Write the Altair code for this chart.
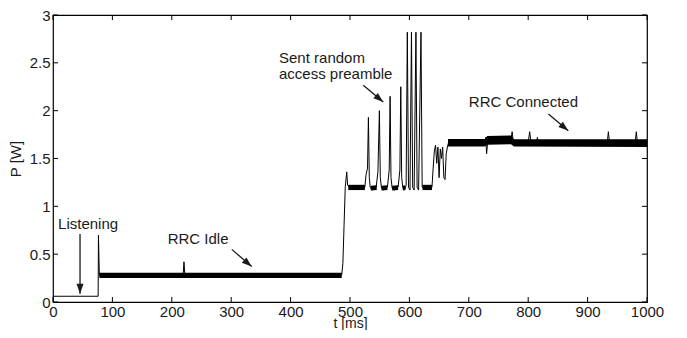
import math
import altair as alt
import pandas as pd

# ---- trace (t in ms, P in W) ----
t_trace = [0, 76, 76.5, 78, 219, 220.5, 222, 486, 488, 490, 492, 494.5, 496, 500, 525,
           527, 529.5, 531, 532.5, 534, 537, 544, 547, 549.5, 551, 553, 557, 563, 566,
           567.5, 569, 571, 575, 581, 584, 585.5, 587, 589, 592, 594.5, 596.5, 598.5,
           601, 603.5, 605.5, 608, 611, 613, 615.5, 619.5, 621.5, 625, 638, 640, 642,
           644, 646, 648, 650, 652, 654, 656, 658, 660, 662, 664, 666, 727, 728.5, 730,
           732, 771, 773, 775, 800, 802.5, 805, 814, 815.5, 817, 933, 935, 937, 980,
           982, 984, 1000]
p_trace = [0.06, 0.06, 0.70, 0.28, 0.28, 0.42, 0.28, 0.28, 0.40, 0.80, 1.20, 1.36, 1.22,
           1.20, 1.20, 1.33, 1.40, 1.93, 1.30, 1.20, 1.17, 1.20, 1.36, 2.00, 1.30, 1.19,
           1.17, 1.20, 1.38, 2.15, 1.30, 1.19, 1.17, 1.20, 1.38, 2.25, 1.30, 1.19, 1.17,
           1.22, 2.82, 1.20, 1.17, 2.82, 1.20, 1.17, 2.82, 1.20, 1.17, 2.82, 1.20, 1.20,
           1.20, 1.40, 1.58, 1.64, 1.45, 1.62, 1.30, 1.60, 1.50, 1.62, 1.30, 1.28, 1.55,
           1.62, 1.67, 1.67, 1.72, 1.55, 1.69, 1.70, 1.78, 1.66, 1.67, 1.78, 1.66, 1.66,
           1.72, 1.66, 1.66, 1.78, 1.66, 1.66, 1.78, 1.66, 1.66]

# ---- noisy band thickness (min / max of the trace) ----
band_group = ["idle", "idle", "pre1", "pre1", "s1", "s1", "s2", "s2", "s3", "s3",
              "s4", "s4", "pre2", "pre2",
              "conn", "conn", "conn", "conn", "conn", "conn"]
band_t = [78, 486, 497, 525, 535, 545, 553, 563, 571, 581, 589, 593, 622, 638,
          665, 727, 731, 771, 776, 1000]
band_lo = [0.250, 0.250, 1.170, 1.170, 1.165, 1.170, 1.165, 1.170, 1.165, 1.170,
           1.165, 1.170, 1.170, 1.170,
           1.625, 1.625, 1.645, 1.650, 1.625, 1.620]
band_hi = [0.305, 0.305, 1.225, 1.225, 1.215, 1.220, 1.215, 1.220, 1.215, 1.220,
           1.215, 1.220, 1.225, 1.225,
           1.705, 1.705, 1.735, 1.740, 1.700, 1.700]

# ---- axis ticks ----
x_ticks = [0, 100, 200, 300, 400, 500, 600, 700, 800, 900, 1000]
y_ticks = [0, 0.5, 1, 1.5, 2, 2.5, 3]

# ---- annotations ----
note_text = ["Listening", "RRC Idle", "Sent random", "access preamble", "RRC Connected"]
note_t = [8.5, 193, 380.5, 380.5, 700]
note_p = [0.82, 0.66, 2.55, 2.38, 2.09]

arrow_t0 = [45.5, 301, 522.4, 834]
arrow_p0 = [0.71, 0.55, 2.265, 1.965]
arrow_t1 = [45.5, 334.5, 556, 867.5]
arrow_p1 = [0.085, 0.37, 2.09, 1.79]

W, H = 594, 287
XMAX, YMAX = 1000, 3
FONT = "Liberation Sans"
FS = 15
INK = "#1a1a1a"

xs = alt.Scale(domain=[0, XMAX], nice=False, zero=False)
ys = alt.Scale(domain=[0, YMAX], nice=False, zero=False)

trace = pd.DataFrame({"t": t_trace, "p": p_trace, "o": range(len(t_trace))})
band = pd.DataFrame({"g": band_group, "t": band_t, "lo": band_lo, "hi": band_hi})
notes = pd.DataFrame({"label": note_text, "t": note_t, "p": note_p})

angles = []
for a0, b0, a1, b1 in zip(arrow_t0, arrow_p0, arrow_t1, arrow_p1):
    dx = (a1 - a0) * W / XMAX
    dy = -(b1 - b0) * H / YMAX
    angles.append(math.degrees(math.atan2(dx, -dy)) % 360)
arrows = pd.DataFrame({"t0": arrow_t0, "p0": arrow_p0, "t1": arrow_t1, "p1": arrow_p1,
                       "ang": angles})

xt = pd.DataFrame({"t": x_ticks})
yt = pd.DataFrame({"p": y_ticks})

x_axis = alt.Axis(values=x_ticks, format="d", ticks=False, domain=False, grid=False,
                  labelFontSize=FS, labelFont=FONT, labelColor=INK, labelPadding=2,
                  labelFlush=False, title="t [ms]", titleFont=FONT, titleFontSize=14,
                  titleFontWeight="normal", titleColor=INK, titleX=W / 2, titleY=25.5,
                  titleBaseline="alphabetic", titleAlign="center")
y_axis = alt.Axis(values=y_ticks, format="~g", ticks=False, domain=False, grid=False,
                  labelFontSize=FS, labelFont=FONT, labelColor=INK, labelPadding=3,
                  labelFlush=False, title="P [W]", titleFont=FONT, titleFontSize=FS,
                  titleFontWeight="normal", titleColor=INK, titleX=-38, titleY=H / 2,
                  titleAngle=270, titleAlign="center", titleBaseline="middle")

line_layer = alt.Chart(trace).mark_line(color="black", strokeWidth=1).encode(
    x=alt.X("t:Q", scale=xs, axis=x_axis),
    y=alt.Y("p:Q", scale=ys, axis=y_axis),
    order="o:Q",
)

band_layer = alt.Chart(band).mark_area(color="black", opacity=1).encode(
    x=alt.X("t:Q", scale=xs),
    y=alt.Y("lo:Q", scale=ys),
    y2="hi:Q",
    detail="g:N",
)

tick_b = alt.Chart(xt).mark_rule(color="black", strokeWidth=1).encode(
    x=alt.X("t:Q", scale=xs), y=alt.value(H), y2=alt.value(H - 5))
tick_t = alt.Chart(xt).mark_rule(color="black", strokeWidth=1).encode(
    x=alt.X("t:Q", scale=xs), y=alt.value(0), y2=alt.value(5))
tick_l = alt.Chart(yt).mark_rule(color="black", strokeWidth=1).encode(
    y=alt.Y("p:Q", scale=ys), x=alt.value(0), x2=alt.value(5))
tick_r = alt.Chart(yt).mark_rule(color="black", strokeWidth=1).encode(
    y=alt.Y("p:Q", scale=ys), x=alt.value(W), x2=alt.value(W - 5))

text_layer = alt.Chart(notes).mark_text(align="left", baseline="middle", font=FONT,
                                        fontSize=FS, color=INK).encode(
    x=alt.X("t:Q", scale=xs),
    y=alt.Y("p:Q", scale=ys),
    text="label:N",
)

arrow_shaft = alt.Chart(arrows).mark_rule(color=INK, strokeWidth=1.3).encode(
    x=alt.X("t0:Q", scale=xs),
    y=alt.Y("p0:Q", scale=ys),
    x2="t1:Q",
    y2="p1:Q",
)
arrow_head = alt.Chart(arrows).mark_point(
    shape="M0,0L-0.35,1L0.35,1Z", filled=True, color=INK, opacity=1, size=400,
    strokeWidth=0).encode(
    x=alt.X("t1:Q", scale=xs),
    y=alt.Y("p1:Q", scale=ys),
    angle=alt.Angle("ang:Q", scale=None),
)

chart = alt.layer(
    line_layer, band_layer, tick_b, tick_t, tick_l, tick_r,
    text_layer, arrow_shaft, arrow_head,
).properties(
    width=W, height=H,
    autosize=alt.AutoSizeParams(type="none"),
    padding={"left": 45, "top": 7, "right": 30, "bottom": 28},
    background="white",
).configure_view(stroke="black", strokeWidth=1.2)

chart.save("out.html", embed_options={"renderer": "svg", "actions": False})
